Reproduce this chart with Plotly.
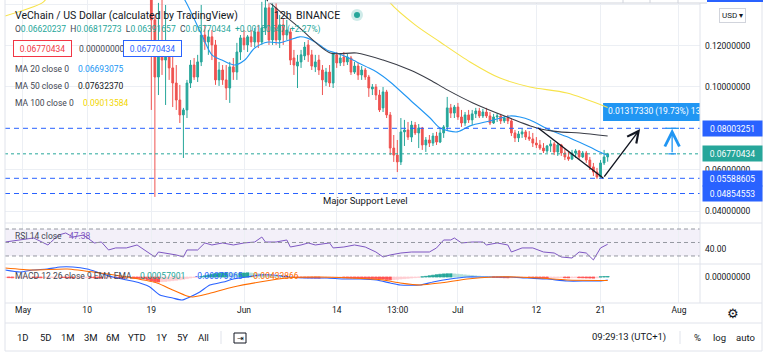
import pandas as pd
import plotly.graph_objects as go

# ---------------- data ----------------
BASE = pd.Timestamp("2021-05-01")

candle_start = "2021-05-19 00:00"  # 12h candles
opens = [0.1517, 0.1324, 0.1048, 0.1193, 0.1130, 0.1155, 0.1092, 0.1019, 0.0937, 0.0865,
         0.0889, 0.1019, 0.1106, 0.1048, 0.1121, 0.1251, 0.1217, 0.1242, 0.1203, 0.1034,
         0.1082, 0.1034, 0.0995, 0.1097, 0.1072, 0.1169, 0.1237, 0.1203, 0.1242, 0.1217,
         0.1266, 0.1217, 0.1285, 0.1382, 0.1227, 0.1382, 0.1227, 0.1300, 0.1251, 0.1266,
         0.1140, 0.1101, 0.1121, 0.1150, 0.1203, 0.1155, 0.1097, 0.1130, 0.1082, 0.1024,
         0.1072, 0.1019, 0.1155, 0.1116, 0.1145, 0.1121, 0.1140, 0.1072, 0.1101, 0.1058,
         0.1082, 0.1048, 0.0990, 0.1000, 0.0961, 0.0899, 0.0976, 0.0865, 0.0705, 0.0671,
         0.0638, 0.0783, 0.0792, 0.0758, 0.0816, 0.0778, 0.0802, 0.0720, 0.0744, 0.0729,
         0.0763, 0.0734, 0.0778, 0.0807, 0.0899, 0.0874, 0.0903, 0.0855, 0.0826, 0.0865,
         0.0841, 0.0870, 0.0884, 0.0860, 0.0879, 0.0860, 0.0826, 0.0855, 0.0860, 0.0836,
         0.0850, 0.0836, 0.0778, 0.0754, 0.0773, 0.0783, 0.0758, 0.0749, 0.0729, 0.0720,
         0.0705, 0.0691, 0.0715, 0.0725, 0.0686, 0.0720, 0.0681, 0.0662, 0.0652, 0.0681,
         0.0691, 0.0662, 0.0681, 0.0647, 0.0614, 0.0589, 0.0565, 0.0633, 0.06620237]
highs = [0.1565, 0.1348, 0.1406, 0.1420, 0.1396, 0.1203, 0.1155, 0.1106, 0.1010, 0.0899,
         0.1034, 0.1130, 0.1140, 0.1155, 0.1396, 0.1300, 0.1275, 0.1275, 0.1227, 0.1121,
         0.1106, 0.1106, 0.1121, 0.1140, 0.1213, 0.1251, 0.1275, 0.1251, 0.1275, 0.1285,
         0.1300, 0.1411, 0.1430, 0.1420, 0.1420, 0.1411, 0.1348, 0.1333, 0.1324, 0.1285,
         0.1179, 0.1155, 0.1179, 0.1217, 0.1227, 0.1179, 0.1155, 0.1155, 0.1106, 0.1092,
         0.1106, 0.1164, 0.1169, 0.1164, 0.1169, 0.1159, 0.1150, 0.1121, 0.1116, 0.1101,
         0.1092, 0.1058, 0.1014, 0.1014, 0.0986, 0.1000, 0.0986, 0.0879, 0.0768, 0.0744,
         0.0850, 0.0841, 0.0831, 0.0836, 0.0831, 0.0821, 0.0807, 0.0758, 0.0768, 0.0778,
         0.0783, 0.0802, 0.0816, 0.0952, 0.0918, 0.0913, 0.0923, 0.0889, 0.0879, 0.0889,
         0.0889, 0.0899, 0.0899, 0.0894, 0.0899, 0.0879, 0.0870, 0.0874, 0.0870, 0.0860,
         0.0865, 0.0850, 0.0792, 0.0787, 0.0797, 0.0792, 0.0787, 0.0778, 0.0758, 0.0744,
         0.0729, 0.0720, 0.0744, 0.0734, 0.0729, 0.0725, 0.0700, 0.0686, 0.0696, 0.0700,
         0.0696, 0.0691, 0.0691, 0.0662, 0.0633, 0.0609, 0.0647, 0.0696, 0.06817273]
lows = [0.0889, 0.0469, 0.0961, 0.1058, 0.0913, 0.1034, 0.0903, 0.0889, 0.0826, 0.0657,
        0.0850, 0.0995, 0.1034, 0.1024, 0.1101, 0.1179, 0.1155, 0.1130, 0.1010, 0.1005,
        0.1010, 0.0937, 0.0923, 0.1034, 0.1034, 0.1130, 0.1179, 0.1169, 0.1193, 0.1193,
        0.1188, 0.1203, 0.1251, 0.1203, 0.1203, 0.1203, 0.1188, 0.1203, 0.1227, 0.1106,
        0.1058, 0.0995, 0.1092, 0.1130, 0.1121, 0.1082, 0.1072, 0.1058, 0.0961, 0.1005,
        0.1000, 0.0995, 0.1092, 0.1101, 0.1101, 0.1106, 0.1058, 0.1063, 0.1034, 0.1034,
        0.1034, 0.0952, 0.0961, 0.0937, 0.0879, 0.0879, 0.0850, 0.0671, 0.0638, 0.0589,
        0.0623, 0.0715, 0.0744, 0.0734, 0.0768, 0.0705, 0.0696, 0.0686, 0.0710, 0.0715,
        0.0720, 0.0729, 0.0754, 0.0792, 0.0850, 0.0850, 0.0841, 0.0807, 0.0812, 0.0826,
        0.0816, 0.0850, 0.0850, 0.0850, 0.0850, 0.0816, 0.0821, 0.0831, 0.0821, 0.0826,
        0.0821, 0.0763, 0.0734, 0.0734, 0.0754, 0.0744, 0.0739, 0.0710, 0.0705, 0.0696,
        0.0681, 0.0681, 0.0686, 0.0671, 0.0667, 0.0667, 0.0647, 0.0643, 0.0647, 0.0657,
        0.0652, 0.0657, 0.0633, 0.0599, 0.0570, 0.0556, 0.0560, 0.0623, 0.06391657]
closes = [0.1324, 0.1048, 0.1193, 0.1130, 0.1155, 0.1092, 0.1019, 0.0937, 0.0865, 0.0889,
          0.1019, 0.1106, 0.1048, 0.1121, 0.1251, 0.1217, 0.1242, 0.1203, 0.1034, 0.1082,
          0.1034, 0.0995, 0.1097, 0.1072, 0.1169, 0.1237, 0.1203, 0.1242, 0.1217, 0.1266,
          0.1217, 0.1285, 0.1382, 0.1227, 0.1382, 0.1227, 0.1300, 0.1251, 0.1275, 0.1130,
          0.1106, 0.1121, 0.1155, 0.1193, 0.1155, 0.1101, 0.1121, 0.1082, 0.1034, 0.1072,
          0.1019, 0.1164, 0.1116, 0.1140, 0.1121, 0.1145, 0.1072, 0.1101, 0.1058, 0.1082,
          0.1048, 0.0995, 0.1000, 0.0961, 0.0889, 0.0976, 0.0865, 0.0705, 0.0671, 0.0638,
          0.0783, 0.0792, 0.0758, 0.0816, 0.0778, 0.0802, 0.0720, 0.0744, 0.0729, 0.0763,
          0.0734, 0.0778, 0.0807, 0.0899, 0.0874, 0.0903, 0.0855, 0.0826, 0.0865, 0.0841,
          0.0870, 0.0884, 0.0860, 0.0879, 0.0860, 0.0826, 0.0855, 0.0860, 0.0836, 0.0850,
          0.0836, 0.0778, 0.0754, 0.0773, 0.0783, 0.0758, 0.0749, 0.0729, 0.0720, 0.0705,
          0.0691, 0.0715, 0.0725, 0.0686, 0.0720, 0.0681, 0.0662, 0.0652, 0.0681, 0.0691,
          0.0662, 0.0681, 0.0647, 0.0614, 0.0589, 0.0565, 0.0633, 0.0662, 0.06770434]

# moving averages (days after 2021-05-01, value)
ma20_day = [20.0, 22.7, 25.2, 26.5, 27.9, 29.7, 31.1, 32.5, 34.4, 36.0, 37.4, 38.8, 39.8, 41.2, 42.6,
            44.0, 45.4, 46.8, 48.2, 49.6, 51.5, 54.3, 57.1, 58.5, 60.9, 62.7, 65.5, 68.3, 69.7, 71.1,
            73.9, 76.7, 79.5, 80.9, 82.0]
ma20 = [0.1560, 0.1420, 0.1242, 0.1155, 0.1130, 0.1106, 0.1130, 0.1188, 0.1217, 0.1213, 0.1227, 0.1242,
        0.1237, 0.1213, 0.1179, 0.1164, 0.1145, 0.1121, 0.1097, 0.1072, 0.1024, 0.0937, 0.0850, 0.0802,
        0.0783, 0.0812, 0.0836, 0.0860, 0.0855, 0.0841, 0.0792, 0.0754, 0.0710, 0.0686, 0.06693075]
ma50_day = [30.0, 33.5, 38.8, 43.1, 46.8, 50.5, 54.3, 57.1, 59.5, 63.1, 67.9, 72.1, 75.3, 78.1, 82.0]
ma50 = [0.1600, 0.1444, 0.1285, 0.1164, 0.1164, 0.1130, 0.1082, 0.1034, 0.0986, 0.0923, 0.0855, 0.0802,
        0.0783, 0.0778, 0.07632370]
ma100_day = [-2.5, 2.7, 3.8, 20.0, 35.0, 50.8, 51.5, 55.0, 58.5, 62.7, 66.9, 71.1, 76.3, 82.0]
ma100 = [0.1343, 0.1406, 0.1444, 0.1700, 0.1650, 0.1444, 0.1406, 0.1300, 0.1217, 0.1121, 0.1043, 0.1000,
         0.0971, 0.09013584]

# RSI 14
rsi_day = [-2.5, -0.5, 1.5, 3.5, 5.0, 6.0, 7.0, 8.5, 10.0, 11.0, 12.0, 13.0, 14.5, 16.0, 17.0, 18.5, 19.0,
           20.0, 21.5, 22.5, 23.0, 24.5, 25.5, 26.5, 28.0, 29.5, 31.0, 32.5, 33.5, 34.0, 35.5, 37.0, 37.5,
           39.0, 40.0, 41.0, 43.0, 43.5, 45.0, 46.5, 48.0, 49.5, 50.5, 51.5, 53.0, 54.5, 55.5, 57.0, 58.0,
           59.0, 60.0, 60.5, 61.5, 63.0, 64.5, 65.0, 66.5, 68.0, 68.5, 70.0, 71.5, 73.0, 74.5, 75.5, 77.0,
           78.0, 79.0, 80.0, 81.0, 82.0]
rsi = [50.7, 53.7, 56.7, 46.3, 61.1, 64.1, 58.1, 61.1, 49.3, 50.7, 38.9, 41.9, 41.9, 46.3, 38.9, 28.5,
       35.9, 34.4, 31.5, 28.5, 38.9, 38.9, 49.3, 46.3, 49.3, 46.3, 49.3, 50.7, 58.1, 50.7, 50.7, 53.7,
       43.3, 46.3, 49.3, 46.3, 49.3, 41.9, 43.3, 46.3, 43.3, 35.9, 28.5, 31.5, 34.4, 35.9, 35.9, 35.9,
       41.9, 53.7, 53.7, 56.7, 49.3, 50.7, 50.7, 46.3, 49.3, 46.3, 35.9, 41.9, 41.9, 35.9, 34.4, 28.5,
       27.0, 35.9, 34.4, 24.1, 41.9, 47.38]

# MACD 12 26 9
macd_day = [-2.5, -0.4, 1.4, 3.4, 5.2, 7.0, 9.0, 10.8, 12.6, 14.6, 16.4, 17.8, 19.2, 21.0, 22.3, 23.4,
            24.8, 26.2, 28.1, 29.5, 31.4, 33.2, 35.1, 37.4, 39.8, 42.6, 44.9, 47.3, 49.6, 51.5, 52.9,
            55.7, 57.5, 59.9, 62.3, 64.5, 66.9, 68.3, 70.7, 73.5, 76.3, 79.1, 80.9, 82.0]
macd = [0.0088, 0.0063, 0.0088, 0.0100, 0.0125, 0.0125, 0.0100, 0.0050, 0.0000, -0.0038, -0.0075,
        -0.0125, -0.0225, -0.0263, -0.0288, -0.0250, -0.0188, -0.0100, -0.0063, -0.0025, 0.0000,
        0.0025, 0.0025, 0.0000, -0.0013, -0.0013, -0.0025, -0.0025, -0.0038, -0.0075, -0.0100,
        -0.0100, -0.0063, -0.0025, 0.0000, 0.0000, 0.0000, 0.0000, -0.0013, -0.0025, -0.0050,
        -0.0050, -0.0050, -0.00375965]
signal_day = [-2.5, 1.4, 6.2, 10.8, 15.4, 18.8, 21.0, 23.0, 23.8, 25.8, 29.5, 33.2, 37.0, 41.2, 45.9,
              50.5, 52.9, 55.7, 58.5, 62.3, 65.9, 69.3, 72.5, 76.3, 82.0]
signal = [0.0113, 0.0088, 0.0100, 0.0050, -0.0013, -0.0075, -0.0163, -0.0238, -0.0250, -0.0213,
          -0.0125, -0.0063, -0.0013, 0.0000, -0.0013, -0.0038, -0.0075, -0.0100, -0.0075, -0.0025,
          0.0000, 0.0000, -0.0013, -0.0038, -0.00433866]
hist_start = "2021-04-28 12:00"  # 12h bars
hist = [-0.0006, -0.0008, -0.0010, -0.0009, -0.0008,
        -0.0007, -0.0006, -0.0005, -0.0006, -0.0008, -0.0010, -0.0009, -0.0007, -0.0006, -0.0005,
        -0.0005, -0.0006, -0.0008, -0.0010, -0.0012, -0.0011, -0.0010, -0.0009, -0.0008, -0.0009,
        -0.0010, -0.0012, -0.0014, -0.0013, -0.0012, -0.0011, -0.0012, -0.0014, -0.0016, -0.0015,
        -0.0014, -0.0016, -0.0018, -0.0020, -0.0025, -0.0035, -0.0050, -0.0060, -0.0062, -0.0058,
        -0.0055, -0.0050, -0.0045, -0.0040, -0.0034, -0.0028, -0.0020, -0.0012, -0.0006, -0.0002,
        0.0005, 0.0015, 0.0025, 0.0035, 0.0042, 0.0048, 0.0050, 0.0052, 0.0050, 0.0048,
        0.0045, 0.0048, 0.0050, 0.0052, 0.0050, 0.0045, 0.0040, 0.0035, 0.0030, 0.0025,
        0.0020, 0.0016, 0.0012, 0.0008, 0.0004, 0.0000, -0.0003, -0.0006, -0.0008, -0.0010,
        -0.0012, -0.0013, -0.0014, -0.0015, -0.0014, -0.0013, -0.0012, -0.0011, -0.0010, -0.0009,
        -0.0010, -0.0011, -0.0012, -0.0013, -0.0014, -0.0015, -0.0016, -0.0018, -0.0020, -0.0022,
        -0.0024, -0.0026, -0.0030, -0.0034, -0.0032, -0.0028, -0.0024, -0.0020, -0.0016, -0.0012,
        -0.0008, -0.0004, 0.0002, 0.0008, 0.0015, 0.0022, 0.0028, 0.0034, 0.0038, 0.0040,
        0.0040, 0.0038, 0.0035, 0.0030, 0.0026, 0.0022, 0.0018, 0.0014, 0.0010, 0.0006,
        0.0003, 0.0000, -0.0003, -0.0005, -0.0007, -0.0009, -0.0010, -0.0009, -0.0008, -0.0007,
        -0.0006, -0.0005, -0.0006, -0.0007, -0.0008, -0.0010, -0.0011, -0.0012, -0.0011, -0.0010,
        -0.0009, -0.0008, -0.0009, -0.0010, -0.0009, -0.0008, -0.0009, -0.0010, -0.0012, -0.0013,
        -0.0014, -0.0010, 0.0002, 0.0005, 0.00057901]

# axis ticks (0.08 is covered by the level label in the original, so it is not printed)
tick_dates = ["2021-05-01", "2021-05-10", "2021-05-19", "2021-06-01", "2021-06-14",
              "2021-06-22 13:00", "2021-07-01", "2021-07-12", "2021-07-21", "2021-08-01"]
tick_text = ["May", "10", "19", "Jun", "14", "13:00", "Jul", "12", "21", "Aug"]
price_ticks = [0.04, 0.06, 0.10, 0.12, 0.14]
price_tick_text = ["0.04000000", "0.06000000", "0.10000000", "0.12000000", "0.14000000"]

# horizontal levels & drawings
level_lines = [0.08003251, 0.05588605, 0.04854553]
last_price = 0.06770434
trend_pts_time = ["2021-07-12 06:00", "2021-07-21 08:40", "2021-07-26 13:10"]
trend_pts_price = [0.0802, 0.0560, 0.0797]
measure_time = "2021-07-31 01:00"
measure_from, measure_to = 0.06770434, 0.08003251
measure_text = "0.01317330 (19.73%) 13"
support_time, support_price = "2021-06-18 02:00", 0.0454

# ---------------- styling ----------------
FONT = "Roboto, 'Noto Sans', sans-serif"
TXT = "#131722"
GRAY = "#434651"
UP, DOWN = "#26a69a", "#ef5350"
BLUE_LVL = "#2962ff"
GRID = "#eceff4"
SEP = "#e0e3eb"

W, H = 769, 356
ML, MR, MT, MB = 5, 69, 0, 53
PW, PH = W - ML - MR, H - MT - MB


def px(x):
    return (x - ML) / PW


def py(y):
    return (PH - (y - MT)) / PH


def days(d):
    return [BASE + pd.Timedelta(days=v) for v in d]


candle_time = pd.date_range(candle_start, periods=len(opens), freq="12h")
hist_time = pd.date_range(hist_start, periods=len(hist), freq="12h")

fig = go.Figure()

fig.add_trace(go.Candlestick(
    x=candle_time, open=opens, high=highs, low=lows, close=closes,
    increasing=dict(line=dict(color=UP, width=1), fillcolor=UP),
    decreasing=dict(line=dict(color=DOWN, width=1), fillcolor=DOWN),
    whiskerwidth=0, showlegend=False, hoverinfo="skip", xaxis="x", yaxis="y"))

for dd, vv, col in [(ma20_day, ma20, "#2196f3"), (ma50_day, ma50, "#3a3d47"), (ma100_day, ma100, "#f7e34a")]:
    fig.add_trace(go.Scatter(x=days(dd), y=vv, mode="lines",
                             line=dict(color=col, width=1.1, shape="spline", smoothing=0.8),
                             showlegend=False, hoverinfo="skip", xaxis="x", yaxis="y"))

# RSI
fig.add_trace(go.Scatter(x=days(rsi_day), y=rsi, mode="lines", line=dict(color="#7e57c2", width=1),
                         showlegend=False, hoverinfo="skip", xaxis="x", yaxis="y2"))

# MACD histogram
hcol = []
for i, v in enumerate(hist):
    prev = hist[i - 1] if i > 0 else v
    if v >= 0:
        hcol.append("#26a69a" if v >= prev else "#b2dfdb")
    else:
        hcol.append("#ff5252" if v < prev else "#ffcdd2")
fig.add_trace(go.Bar(x=hist_time, y=hist, marker=dict(color=hcol, line=dict(color=hcol, width=0.8)),
                     width=0.42 * 86400000, showlegend=False, hoverinfo="skip", xaxis="x", yaxis="y3"))
fig.add_trace(go.Scatter(x=days(macd_day), y=macd, mode="lines",
                         line=dict(color="#2962ff", width=1.1, shape="spline", smoothing=0.6),
                         showlegend=False, hoverinfo="skip", xaxis="x", yaxis="y3"))
fig.add_trace(go.Scatter(x=days(signal_day), y=signal, mode="lines",
                         line=dict(color="#ff6d00", width=1.1, shape="spline", smoothing=0.6),
                         showlegend=False, hoverinfo="skip", xaxis="x", yaxis="y3"))

# price-range label text (clipped to the pane like the original)
fig.add_trace(go.Scatter(x=[pd.Timestamp("2021-07-22 01:00")], y=[0.08795], mode="text",
                         text=[measure_text], textposition="middle right",
                         textfont=dict(color="white", size=8.5, family=FONT),
                         cliponaxis=True, showlegend=False, hoverinfo="skip", xaxis="x", yaxis="y"))

shapes = []


def pline(x0, y0, x1, y1, color=SEP, width=1, dash=None):
    shapes.append(dict(type="line", xref="paper", yref="paper", x0=px(x0), x1=px(x1), y0=py(y0), y1=py(y1),
                       line=dict(color=color, width=width, dash=dash), layer="above"))


# RSI band & dashed levels
shapes.append(dict(type="rect", xref="paper", yref="y2", x0=0, x1=1, y0=30, y1=70,
                   fillcolor="rgba(126,87,194,0.09)", line=dict(width=0), layer="below"))
for lv in (70, 50, 30):
    shapes.append(dict(type="line", xref="paper", yref="y2", x0=0, x1=1, y0=lv, y1=lv,
                       line=dict(color="#9598a1", width=1, dash="4px,3px"), layer="above"))

# horizontal level lines
for lv in level_lines:
    shapes.append(dict(type="line", xref="paper", yref="y", x0=0, x1=1, y0=lv, y1=lv,
                       line=dict(color=BLUE_LVL, width=1, dash="5px,4px"), layer="above"))
shapes.append(dict(type="line", xref="paper", yref="y", x0=0, x1=1, y0=last_price, y1=last_price,
                   line=dict(color=UP, width=1, dash="dot"), layer="above"))

# price range label background
shapes.append(dict(type="rect", xref="x", yref="y", x0="2021-07-21 08:30", x1="2021-08-08",
                   y0=0.0836, y1=0.0923, fillcolor="#2196f3", line=dict(width=0), layer="between"))

# trend line (first leg)
shapes.append(dict(type="line", xref="x", yref="y", x0=trend_pts_time[0], y0=trend_pts_price[0],
                   x1=trend_pts_time[1], y1=trend_pts_price[1], line=dict(color=TXT, width=1.4), layer="above"))

# measure tool caps
shapes.append(dict(type="line", xref="x", yref="y", x0="2021-07-30 02:00", x1="2021-08-01 00:00",
                   y0=measure_to, y1=measure_to, line=dict(color="#2196f3", width=1.3), layer="above"))
shapes.append(dict(type="line", xref="x", yref="y", x0="2021-07-30 12:00", x1="2021-07-31 14:00",
                   y0=measure_from, y1=measure_from, line=dict(color="#2196f3", width=1.3), layer="above"))

# frame / separators
pline(5, 223, 762, 223)
pline(5, 264, 762, 264)
pline(5, 303, 762, 303)
pline(700, 0, 700, 303)
pline(5, 323, 762, 323)
pline(5, 351, 762, 351)
pline(762, 0, 762, 351)
pline(5, 0, 5, 351)
pline(221, 331, 221, 344)
pline(680, 331, 680, 344)
# top strip of the floating panel
shapes.append(dict(type="rect", xref="paper", yref="paper", x0=px(268), x1=px(707), y0=py(3), y1=py(-2),
                   fillcolor="white", line=dict(width=0), layer="above"))
pline(268, 3, 707, 3, color="#d1d4dc")
for xx in (623, 650, 678):
    pline(xx, 0, xx, 3, color="#d1d4dc")
shapes.append(dict(type="rect", xref="paper", yref="paper", x0=px(707), x1=px(763), y0=py(2), y1=py(-2),
                   fillcolor="#2962ff", line=dict(width=0), layer="above"))
# live dot
shapes.append(dict(type="circle", xref="paper", yref="paper", x0=px(351), x1=px(363), y0=py(21), y1=py(9),
                   fillcolor="rgba(38,166,154,0.22)", line=dict(width=0), layer="above"))
shapes.append(dict(type="circle", xref="paper", yref="paper", x0=px(354), x1=px(360), y0=py(18), y1=py(12),
                   fillcolor=UP, line=dict(width=0), layer="above"))
# calendar icon
shapes.append(dict(type="rect", xref="paper", yref="paper", x0=px(234), x1=px(246), y0=py(343), y1=py(333),
                   fillcolor="white", line=dict(color=TXT, width=1), layer="above"))

ann = []


def txt(x, y, s, size=8.5, color=TXT, xanchor="left", **kw):
    ann.append(dict(xref="paper", yref="paper", x=px(x), y=py(y), text=s, showarrow=False,
                    xanchor=xanchor, yanchor="middle", font=dict(size=size, color=color, family=FONT), **kw))


# legend block
txt(13, 15, "VeChain / US Dollar (calculated by TradingView)", size=10.5)
txt(272, 15, "12h", size=10.5)
txt(294, 15, "BINANCE", size=10.5)
ohlc = ("O<span style='color:#26a69a'>0.06620237</span>  H<span style='color:#26a69a'>0.06817273</span>  "
        "L<span style='color:#26a69a'>0.06391657</span>  C<span style='color:#26a69a'>0.06770434</span>  "
        "<span style='color:#26a69a'>+0.00150547 (+2.27%)</span>")
txt(13, 29, ohlc, size=8.5, color=GRAY)
ann.append(dict(xref="paper", yref="paper", x=px(13), y=py(49), text="0.06770434", showarrow=False,
                xanchor="left", yanchor="middle", width=53, height=11, borderpad=2, borderwidth=1,
                bordercolor="#f23645", bgcolor="white", font=dict(size=8.5, color="#f23645", family=FONT)))
txt(77, 49, "0.00000000", color=GRAY)
ann.append(dict(xref="paper", yref="paper", x=px(123), y=py(49), text="0.06770434", showarrow=False,
                xanchor="left", yanchor="middle", width=53, height=11, borderpad=2, borderwidth=1,
                bordercolor=BLUE_LVL, bgcolor="white", font=dict(size=8.5, color=BLUE_LVL, family=FONT)))
txt(13, 69, "MA 20 close 0", color=GRAY)
txt(76, 69, "0.06693075", color="#2196f3")
txt(13, 86, "MA 50 close 0", color=GRAY)
txt(76, 86, "0.07632370", color=TXT)
txt(13, 103, "MA 100 close 0", color=GRAY)
txt(81, 103, "0.09013584", color="#f2d600")

txt(13, 236, "RSI 14 close", color=GRAY)
txt(67, 236, "47.38", color="#7e57c2")
txt(13, 276, "MACD 12 26 close 9 EMA EMA", color=GRAY)
txt(138, 276, "0.00057901", color=UP)
txt(193, 276, "-0.00375965", color="#2962ff")
txt(249, 276, "-0.00433866", color="#ff6d00")

# right scale value boxes
for val, col in [(0.08003251, BLUE_LVL), (0.06770434, UP), (0.05588605, BLUE_LVL), (0.04854553, BLUE_LVL)]:
    ann.append(dict(xref="paper", yref="y", x=px(702), y=val, text=f"{val:.8f}", showarrow=False,
                    xanchor="left", yanchor="middle", width=55, height=11, borderpad=2, bgcolor=col,
                    font=dict(size=8.5, color="white", family=FONT)))
ann.append(dict(xref="paper", yref="paper", x=px(732), y=py(15), text="USD ▾", showarrow=False,
                xanchor="center", yanchor="middle", borderpad=2, borderwidth=1, bordercolor="#d1d4dc",
                bgcolor="white", font=dict(size=8, color=TXT, family=FONT)))

# drawings
ann.append(dict(xref="x", yref="y", x=support_time, y=support_price, text="Major Support Level",
                showarrow=False, xanchor="center", yanchor="middle", font=dict(size=9.5, color=TXT, family=FONT)))
ann.append(dict(xref="x", yref="y", axref="x", ayref="y", x=trend_pts_time[2], y=trend_pts_price[2],
                ax=trend_pts_time[1], ay=trend_pts_price[1], text="", showarrow=True, arrowhead=5,
                arrowsize=1.6, arrowwidth=1.4, arrowcolor=TXT, standoff=0))
ann.append(dict(xref="x", yref="y", axref="x", ayref="y", x=measure_time, y=measure_to - 0.0002,
                ax=measure_time, ay=measure_from, text="", showarrow=True, arrowhead=5,
                arrowsize=2.2, arrowwidth=1.3, arrowcolor="#2196f3", standoff=0))

# bottom toolbar
for xc, s in [(23, "1D"), (46, "5D"), (68, "1M"), (91, "3M"), (113, "6M"), (137, "YTD"),
              (161, "1Y"), (182, "5Y"), (204, "All")]:
    txt(xc, 337, s, size=9.5, xanchor="center")
txt(240, 338, "⇥", size=8, xanchor="center")
txt(629, 337, "09:29:13 (UTC+1)", size=9.5, xanchor="center")
txt(697, 337, "%", size=9.5, xanchor="center")
txt(719, 337, "log", size=9.5, xanchor="center")
txt(745, 337, "auto", size=9.5, xanchor="center")
txt(733, 313, "⚙", size=13, xanchor="center")

axis_common = dict(side="right", anchor="x", zeroline=False, showline=False, fixedrange=True,
                   ticks="", ticklen=0, ticklabelstandoff=4,
                   tickfont=dict(size=8.5, color=TXT, family=FONT))

fig.update_layout(
    width=W, height=H, margin=dict(l=ML, r=MR, t=MT, b=MB),
    paper_bgcolor="white", plot_bgcolor="white", showlegend=False, hovermode=False,
    font=dict(family=FONT, color=TXT),
    xaxis=dict(type="date", range=["2021-04-28 11:30", "2021-08-03 22:48"], anchor="y3",
               tickvals=tick_dates, ticktext=tick_text, showgrid=True, gridcolor=GRID, gridwidth=1,
               zeroline=False, showline=False, ticks="", tickfont=dict(size=8.5, color=TXT, family=FONT),
               rangeslider=dict(visible=False), fixedrange=True),
    yaxis=dict(domain=[py(223), 1], range=[0.0343, 0.1420], tickvals=price_ticks, ticktext=price_tick_text,
               showgrid=True, gridcolor=GRID, **axis_common),
    yaxis2=dict(domain=[py(264), py(223)], range=[18.1, 78.9], tickvals=[40], ticktext=["40.00"],
                showgrid=False, **axis_common),
    yaxis3=dict(domain=[0, py(264)], range=[-0.0325, 0.01625], tickvals=[0], ticktext=["0.00000000"],
                showgrid=False, **axis_common),
    shapes=shapes, annotations=ann,
)

fig.write_html("out.html", config={"displayModeBar": False},
               post_script="document.body.style.margin='0';document.body.style.padding='0';")
